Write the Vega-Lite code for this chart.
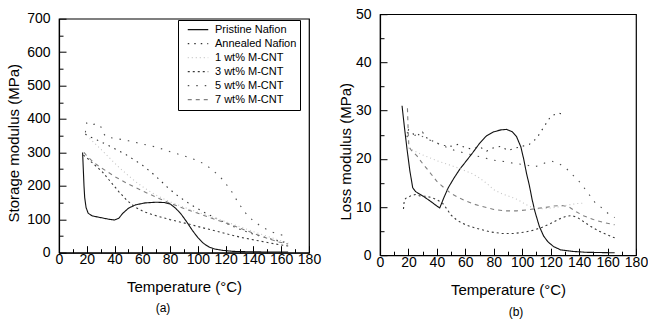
{
 "$schema": "https://vega.github.io/schema/vega-lite/v6.json",
 "padding": {"left": 6, "top": 6, "right": 0, "bottom": 0},
 "background": "white",
 "spacing": 15,
 "center": true,
 "config": {
  "font": "Liberation Sans",
  "view": {"stroke": "black", "strokeWidth": 1.2},
  "axis": {"labelFont": "Liberation Sans", "titleFont": "Liberation Sans", "labelFontSize": 14, "titleFontSize": 15, "titleFontWeight": "normal", "labelColor": "black", "titleColor": "black", "domainColor": "black", "domainWidth": 1.2, "tickColor": "black", "tickWidth": 1, "grid": false, "labelOverlap": false, "labelFlush": false},
  "title": {"font": "Liberation Sans", "fontSize": 12, "fontWeight": "normal", "color": "black"}
 },
 "datasets": {
  "a": [
   {"s":"Pristine Nafion","T":17,"v":300},{"s":"Pristine Nafion","T":17.5,"v":250},{"s":"Pristine Nafion","T":18,"v":200},{"s":"Pristine Nafion","T":18.5,"v":165},{"s":"Pristine Nafion","T":19.5,"v":135},{"s":"Pristine Nafion","T":21,"v":118},{"s":"Pristine Nafion","T":24,"v":110},{"s":"Pristine Nafion","T":30,"v":105},{"s":"Pristine Nafion","T":36,"v":100},{"s":"Pristine Nafion","T":40,"v":98},{"s":"Pristine Nafion","T":43,"v":103},{"s":"Pristine Nafion","T":46,"v":118},{"s":"Pristine Nafion","T":50,"v":133},{"s":"Pristine Nafion","T":55,"v":143},{"s":"Pristine Nafion","T":62,"v":149},{"s":"Pristine Nafion","T":70,"v":151},{"s":"Pristine Nafion","T":76,"v":150},{"s":"Pristine Nafion","T":80,"v":146},{"s":"Pristine Nafion","T":84,"v":133},{"s":"Pristine Nafion","T":88,"v":115},{"s":"Pristine Nafion","T":92,"v":92},{"s":"Pristine Nafion","T":96,"v":67},{"s":"Pristine Nafion","T":100,"v":45},{"s":"Pristine Nafion","T":104,"v":28},{"s":"Pristine Nafion","T":108,"v":17},{"s":"Pristine Nafion","T":112,"v":11},{"s":"Pristine Nafion","T":118,"v":7},{"s":"Pristine Nafion","T":125,"v":4},{"s":"Pristine Nafion","T":135,"v":3},{"s":"Pristine Nafion","T":150,"v":2},{"s":"Pristine Nafion","T":165,"v":2},
   {"s":"Annealed Nafion","T":19,"v":355},{"s":"Annealed Nafion","T":21,"v":348},{"s":"Annealed Nafion","T":25,"v":342},{"s":"Annealed Nafion","T":30,"v":332},{"s":"Annealed Nafion","T":36,"v":320},{"s":"Annealed Nafion","T":42,"v":307},{"s":"Annealed Nafion","T":48,"v":294},{"s":"Annealed Nafion","T":54,"v":278},{"s":"Annealed Nafion","T":60,"v":262},{"s":"Annealed Nafion","T":66,"v":242},{"s":"Annealed Nafion","T":72,"v":220},{"s":"Annealed Nafion","T":78,"v":196},{"s":"Annealed Nafion","T":84,"v":175},{"s":"Annealed Nafion","T":90,"v":157},{"s":"Annealed Nafion","T":96,"v":141},{"s":"Annealed Nafion","T":104,"v":122},{"s":"Annealed Nafion","T":113,"v":103},{"s":"Annealed Nafion","T":122,"v":85},{"s":"Annealed Nafion","T":132,"v":67},{"s":"Annealed Nafion","T":141,"v":54},{"s":"Annealed Nafion","T":150,"v":44},{"s":"Annealed Nafion","T":158,"v":35},{"s":"Annealed Nafion","T":165,"v":29},
   {"s":"1 wt% M-CNT","T":22,"v":342},{"s":"1 wt% M-CNT","T":26,"v":326},{"s":"1 wt% M-CNT","T":31,"v":306},{"s":"1 wt% M-CNT","T":37,"v":281},{"s":"1 wt% M-CNT","T":43,"v":256},{"s":"1 wt% M-CNT","T":49,"v":234},{"s":"1 wt% M-CNT","T":55,"v":213},{"s":"1 wt% M-CNT","T":62,"v":192},{"s":"1 wt% M-CNT","T":70,"v":172},{"s":"1 wt% M-CNT","T":80,"v":152},{"s":"1 wt% M-CNT","T":90,"v":136},{"s":"1 wt% M-CNT","T":100,"v":121},{"s":"1 wt% M-CNT","T":110,"v":107},{"s":"1 wt% M-CNT","T":120,"v":93},{"s":"1 wt% M-CNT","T":130,"v":78},{"s":"1 wt% M-CNT","T":140,"v":63},{"s":"1 wt% M-CNT","T":150,"v":49},{"s":"1 wt% M-CNT","T":158,"v":38},{"s":"1 wt% M-CNT","T":165,"v":30},
   {"s":"3 wt% M-CNT","T":17.5,"v":292},{"s":"3 wt% M-CNT","T":20,"v":284},{"s":"3 wt% M-CNT","T":25,"v":265},{"s":"3 wt% M-CNT","T":31,"v":243},{"s":"3 wt% M-CNT","T":37,"v":213},{"s":"3 wt% M-CNT","T":43,"v":183},{"s":"3 wt% M-CNT","T":49,"v":156},{"s":"3 wt% M-CNT","T":55,"v":136},{"s":"3 wt% M-CNT","T":61,"v":123},{"s":"3 wt% M-CNT","T":67,"v":114},{"s":"3 wt% M-CNT","T":74,"v":106},{"s":"3 wt% M-CNT","T":80,"v":99},{"s":"3 wt% M-CNT","T":87,"v":92},{"s":"3 wt% M-CNT","T":94,"v":85},{"s":"3 wt% M-CNT","T":103,"v":75},{"s":"3 wt% M-CNT","T":113,"v":65},{"s":"3 wt% M-CNT","T":122,"v":55},{"s":"3 wt% M-CNT","T":132,"v":45},{"s":"3 wt% M-CNT","T":142,"v":37},{"s":"3 wt% M-CNT","T":152,"v":29},{"s":"3 wt% M-CNT","T":160,"v":23},{"s":"3 wt% M-CNT","T":165,"v":20},
   {"s":"5 wt% M-CNT","T":19,"v":360},{"s":"5 wt% M-CNT","T":20,"v":388},{"s":"5 wt% M-CNT","T":22,"v":381},{"s":"5 wt% M-CNT","T":25,"v":384},{"s":"5 wt% M-CNT","T":28,"v":386},{"s":"5 wt% M-CNT","T":30,"v":378},{"s":"5 wt% M-CNT","T":32,"v":357},{"s":"5 wt% M-CNT","T":34,"v":346},{"s":"5 wt% M-CNT","T":42,"v":341},{"s":"5 wt% M-CNT","T":50,"v":335},{"s":"5 wt% M-CNT","T":60,"v":325},{"s":"5 wt% M-CNT","T":70,"v":316},{"s":"5 wt% M-CNT","T":80,"v":302},{"s":"5 wt% M-CNT","T":90,"v":290},{"s":"5 wt% M-CNT","T":100,"v":275},{"s":"5 wt% M-CNT","T":106,"v":262},{"s":"5 wt% M-CNT","T":112,"v":242},{"s":"5 wt% M-CNT","T":118,"v":218},{"s":"5 wt% M-CNT","T":124,"v":185},{"s":"5 wt% M-CNT","T":129,"v":150},{"s":"5 wt% M-CNT","T":134,"v":120},{"s":"5 wt% M-CNT","T":139,"v":99},{"s":"5 wt% M-CNT","T":145,"v":80},{"s":"5 wt% M-CNT","T":152,"v":64},{"s":"5 wt% M-CNT","T":158,"v":55},{"s":"5 wt% M-CNT","T":165,"v":49},
   {"s":"7 wt% M-CNT","T":18,"v":300},{"s":"7 wt% M-CNT","T":20,"v":290},{"s":"7 wt% M-CNT","T":25,"v":270},{"s":"7 wt% M-CNT","T":30,"v":255},{"s":"7 wt% M-CNT","T":35,"v":242},{"s":"7 wt% M-CNT","T":40,"v":228},{"s":"7 wt% M-CNT","T":50,"v":205},{"s":"7 wt% M-CNT","T":60,"v":185},{"s":"7 wt% M-CNT","T":70,"v":166},{"s":"7 wt% M-CNT","T":80,"v":148},{"s":"7 wt% M-CNT","T":90,"v":132},{"s":"7 wt% M-CNT","T":100,"v":118},{"s":"7 wt% M-CNT","T":110,"v":103},{"s":"7 wt% M-CNT","T":120,"v":89},{"s":"7 wt% M-CNT","T":130,"v":74},{"s":"7 wt% M-CNT","T":140,"v":58},{"s":"7 wt% M-CNT","T":150,"v":43},{"s":"7 wt% M-CNT","T":158,"v":32},{"s":"7 wt% M-CNT","T":165,"v":26}
  ],
  "b": [
   {"s":"Pristine Nafion","T":15.5,"v":31},{"s":"Pristine Nafion","T":17,"v":27},{"s":"Pristine Nafion","T":19,"v":22},{"s":"Pristine Nafion","T":21,"v":17.5},{"s":"Pristine Nafion","T":23,"v":14},{"s":"Pristine Nafion","T":25,"v":13.2},{"s":"Pristine Nafion","T":30,"v":12.3},{"s":"Pristine Nafion","T":35,"v":11.3},{"s":"Pristine Nafion","T":40,"v":10.2},{"s":"Pristine Nafion","T":42,"v":9.8},{"s":"Pristine Nafion","T":45,"v":12},{"s":"Pristine Nafion","T":48,"v":14},{"s":"Pristine Nafion","T":52,"v":16},{"s":"Pristine Nafion","T":56,"v":17.8},{"s":"Pristine Nafion","T":60,"v":19.3},{"s":"Pristine Nafion","T":65,"v":21.2},{"s":"Pristine Nafion","T":70,"v":23.2},{"s":"Pristine Nafion","T":75,"v":24.8},{"s":"Pristine Nafion","T":80,"v":25.6},{"s":"Pristine Nafion","T":85,"v":26},{"s":"Pristine Nafion","T":89,"v":26.1},{"s":"Pristine Nafion","T":93,"v":25.6},{"s":"Pristine Nafion","T":96,"v":24.6},{"s":"Pristine Nafion","T":99,"v":22.5},{"s":"Pristine Nafion","T":101,"v":20},{"s":"Pristine Nafion","T":103,"v":17},{"s":"Pristine Nafion","T":105,"v":14.5},{"s":"Pristine Nafion","T":107,"v":11.5},{"s":"Pristine Nafion","T":109,"v":9},{"s":"Pristine Nafion","T":112,"v":6},{"s":"Pristine Nafion","T":115,"v":4},{"s":"Pristine Nafion","T":118,"v":2.8},{"s":"Pristine Nafion","T":122,"v":1.8},{"s":"Pristine Nafion","T":127,"v":1.1},{"s":"Pristine Nafion","T":135,"v":0.8},{"s":"Pristine Nafion","T":145,"v":0.6},{"s":"Pristine Nafion","T":165,"v":0.5},
   {"s":"Annealed Nafion","T":19,"v":24.5},{"s":"Annealed Nafion","T":20,"v":26},{"s":"Annealed Nafion","T":22,"v":25.5},{"s":"Annealed Nafion","T":24,"v":25},{"s":"Annealed Nafion","T":26,"v":25.3},{"s":"Annealed Nafion","T":28,"v":24.8},{"s":"Annealed Nafion","T":30,"v":25.5},{"s":"Annealed Nafion","T":32,"v":24.5},{"s":"Annealed Nafion","T":35,"v":24},{"s":"Annealed Nafion","T":40,"v":23.2},{"s":"Annealed Nafion","T":45,"v":22.8},{"s":"Annealed Nafion","T":50,"v":22.6},{"s":"Annealed Nafion","T":55,"v":23},{"s":"Annealed Nafion","T":60,"v":22.3},{"s":"Annealed Nafion","T":65,"v":22},{"s":"Annealed Nafion","T":70,"v":22.5},{"s":"Annealed Nafion","T":75,"v":21.6},{"s":"Annealed Nafion","T":80,"v":22.3},{"s":"Annealed Nafion","T":85,"v":22.6},{"s":"Annealed Nafion","T":90,"v":21.7},{"s":"Annealed Nafion","T":95,"v":22.2},{"s":"Annealed Nafion","T":100,"v":22.6},{"s":"Annealed Nafion","T":105,"v":23},{"s":"Annealed Nafion","T":110,"v":24.2},{"s":"Annealed Nafion","T":115,"v":26.5},{"s":"Annealed Nafion","T":120,"v":28.8},{"s":"Annealed Nafion","T":125,"v":29.5},{"s":"Annealed Nafion","T":130,"v":29.2},
   {"s":"1 wt% M-CNT","T":20,"v":22.3},{"s":"1 wt% M-CNT","T":25,"v":21.5},{"s":"1 wt% M-CNT","T":30,"v":20.8},{"s":"1 wt% M-CNT","T":35,"v":20.2},{"s":"1 wt% M-CNT","T":40,"v":19.6},{"s":"1 wt% M-CNT","T":45,"v":19.1},{"s":"1 wt% M-CNT","T":50,"v":18.6},{"s":"1 wt% M-CNT","T":55,"v":18.1},{"s":"1 wt% M-CNT","T":60,"v":17.5},{"s":"1 wt% M-CNT","T":65,"v":16.9},{"s":"1 wt% M-CNT","T":70,"v":16},{"s":"1 wt% M-CNT","T":75,"v":14.9},{"s":"1 wt% M-CNT","T":80,"v":13.6},{"s":"1 wt% M-CNT","T":86,"v":12.7},{"s":"1 wt% M-CNT","T":92,"v":12.1},{"s":"1 wt% M-CNT","T":97,"v":11.5},{"s":"1 wt% M-CNT","T":102,"v":10.6},{"s":"1 wt% M-CNT","T":107,"v":9.9},{"s":"1 wt% M-CNT","T":112,"v":9.6},{"s":"1 wt% M-CNT","T":118,"v":9.7},{"s":"1 wt% M-CNT","T":125,"v":10},{"s":"1 wt% M-CNT","T":132,"v":10.4},{"s":"1 wt% M-CNT","T":138,"v":10.7},{"s":"1 wt% M-CNT","T":143,"v":10.8},
   {"s":"3 wt% M-CNT","T":16.5,"v":9.6},{"s":"3 wt% M-CNT","T":17,"v":11.2},{"s":"3 wt% M-CNT","T":18,"v":11.8},{"s":"3 wt% M-CNT","T":20,"v":12},{"s":"3 wt% M-CNT","T":22,"v":12.4},{"s":"3 wt% M-CNT","T":25,"v":12.6},{"s":"3 wt% M-CNT","T":28,"v":12.3},{"s":"3 wt% M-CNT","T":32,"v":12.2},{"s":"3 wt% M-CNT","T":36,"v":12},{"s":"3 wt% M-CNT","T":40,"v":11.5},{"s":"3 wt% M-CNT","T":44,"v":10.8},{"s":"3 wt% M-CNT","T":47,"v":9.6},{"s":"3 wt% M-CNT","T":50,"v":8.3},{"s":"3 wt% M-CNT","T":54,"v":7.3},{"s":"3 wt% M-CNT","T":58,"v":6.6},{"s":"3 wt% M-CNT","T":63,"v":6},{"s":"3 wt% M-CNT","T":70,"v":5.4},{"s":"3 wt% M-CNT","T":78,"v":4.8},{"s":"3 wt% M-CNT","T":86,"v":4.5},{"s":"3 wt% M-CNT","T":94,"v":4.5},{"s":"3 wt% M-CNT","T":102,"v":4.8},{"s":"3 wt% M-CNT","T":108,"v":5.2},{"s":"3 wt% M-CNT","T":114,"v":5.8},{"s":"3 wt% M-CNT","T":120,"v":6.6},{"s":"3 wt% M-CNT","T":126,"v":7.5},{"s":"3 wt% M-CNT","T":131,"v":8.1},{"s":"3 wt% M-CNT","T":135,"v":8.2},{"s":"3 wt% M-CNT","T":139,"v":7.8},{"s":"3 wt% M-CNT","T":143,"v":7},{"s":"3 wt% M-CNT","T":148,"v":6},{"s":"3 wt% M-CNT","T":154,"v":5},{"s":"3 wt% M-CNT","T":160,"v":4.2},{"s":"3 wt% M-CNT","T":165,"v":3.6},
   {"s":"5 wt% M-CNT","T":19,"v":25.5},{"s":"5 wt% M-CNT","T":21,"v":25},{"s":"5 wt% M-CNT","T":24,"v":24.8},{"s":"5 wt% M-CNT","T":27,"v":25.2},{"s":"5 wt% M-CNT","T":30,"v":24.6},{"s":"5 wt% M-CNT","T":34,"v":24},{"s":"5 wt% M-CNT","T":40,"v":23.3},{"s":"5 wt% M-CNT","T":46,"v":22.5},{"s":"5 wt% M-CNT","T":52,"v":21.8},{"s":"5 wt% M-CNT","T":58,"v":21.3},{"s":"5 wt% M-CNT","T":65,"v":20.8},{"s":"5 wt% M-CNT","T":72,"v":20.3},{"s":"5 wt% M-CNT","T":80,"v":19.7},{"s":"5 wt% M-CNT","T":88,"v":19.4},{"s":"5 wt% M-CNT","T":95,"v":19},{"s":"5 wt% M-CNT","T":102,"v":18.8},{"s":"5 wt% M-CNT","T":108,"v":18.3},{"s":"5 wt% M-CNT","T":112,"v":18.6},{"s":"5 wt% M-CNT","T":117,"v":19.3},{"s":"5 wt% M-CNT","T":121,"v":19.5},{"s":"5 wt% M-CNT","T":126,"v":19},{"s":"5 wt% M-CNT","T":131,"v":18},{"s":"5 wt% M-CNT","T":136,"v":16.5},{"s":"5 wt% M-CNT","T":141,"v":15},{"s":"5 wt% M-CNT","T":146,"v":13},{"s":"5 wt% M-CNT","T":151,"v":11},{"s":"5 wt% M-CNT","T":156,"v":9.8},{"s":"5 wt% M-CNT","T":161,"v":8.5},{"s":"5 wt% M-CNT","T":165,"v":7.8},
   {"s":"7 wt% M-CNT","T":19.3,"v":30.5},{"s":"7 wt% M-CNT","T":19.8,"v":26},{"s":"7 wt% M-CNT","T":20.3,"v":22.5},{"s":"7 wt% M-CNT","T":22,"v":21.8},{"s":"7 wt% M-CNT","T":26,"v":20.6},{"s":"7 wt% M-CNT","T":30,"v":19},{"s":"7 wt% M-CNT","T":35,"v":17.2},{"s":"7 wt% M-CNT","T":40,"v":15.3},{"s":"7 wt% M-CNT","T":45,"v":14},{"s":"7 wt% M-CNT","T":50,"v":12.8},{"s":"7 wt% M-CNT","T":55,"v":12},{"s":"7 wt% M-CNT","T":60,"v":11.3},{"s":"7 wt% M-CNT","T":66,"v":10.6},{"s":"7 wt% M-CNT","T":72,"v":10.1},{"s":"7 wt% M-CNT","T":80,"v":9.5},{"s":"7 wt% M-CNT","T":88,"v":9.2},{"s":"7 wt% M-CNT","T":96,"v":9.2},{"s":"7 wt% M-CNT","T":104,"v":9.4},{"s":"7 wt% M-CNT","T":110,"v":9.7},{"s":"7 wt% M-CNT","T":116,"v":9.9},{"s":"7 wt% M-CNT","T":122,"v":10.2},{"s":"7 wt% M-CNT","T":128,"v":10.3},{"s":"7 wt% M-CNT","T":133,"v":10},{"s":"7 wt% M-CNT","T":138,"v":9},{"s":"7 wt% M-CNT","T":143,"v":8.2},{"s":"7 wt% M-CNT","T":150,"v":7.4},{"s":"7 wt% M-CNT","T":157,"v":6.8},{"s":"7 wt% M-CNT","T":165,"v":6.3}
  ]
 },
 "hconcat": [
  {
   "width": 250, "height": 234,
   "data": {"name": "a"},
   "title": {"text": "(a)", "orient": "bottom", "frame": "group", "dx": -21, "offset": 8},
   "mark": {"type": "line", "strokeWidth": 1.1},
   "encoding": {
    "x": {"field": "T", "type": "quantitative", "scale": {"domain": [0, 180], "nice": false, "zero": false},
     "axis": {"title": "Temperature (°C)", "values": [0,10,20,30,40,50,60,70,80,90,100,110,120,130,140,150,160,170,180], "labelExpr": "datum.value % 20 === 0 ? datum.label : ''", "tickSize": {"condition": {"test": "datum.value % 20 === 0", "value": -7}, "value": -4}, "labelPadding": 7, "titlePadding": 10}},
    "y": {"field": "v", "type": "quantitative", "scale": {"domain": [0, 700], "nice": false},
     "axis": {"title": "Storage modulus (MPa)", "values": [0,50,100,150,200,250,300,350,400,450,500,550,600,650,700], "labelExpr": "datum.value % 100 === 0 ? datum.label : ''", "tickSize": {"condition": {"test": "datum.value % 100 === 0", "value": -7}, "value": -4}, "labelPadding": 16, "titlePadding": 5, "titleY": 124}},
    "color": {"field": "s", "type": "nominal",
     "scale": {"domain": ["Pristine Nafion","Annealed Nafion","1 wt% M-CNT","3 wt% M-CNT","5 wt% M-CNT","7 wt% M-CNT"], "range": ["#111111","#333333","#c4c4c4","#3a3a3a","#505050","#808080"]},
     "legend": {"title": null, "orient": "none", "legendX": 119, "legendY": 6, "strokeColor": "black", "fillColor": "white", "padding": 3, "symbolOffset": 6, "symbolType": "stroke", "symbolSize": 420, "symbolStrokeWidth": 1.2, "labelFontSize": 11, "labelFont": "Liberation Sans", "labelColor": "black", "labelOffset": 6, "clipHeight": 13.2, "rowPadding": 0}},
    "strokeDash": {"field": "s", "type": "nominal",
     "scale": {"domain": ["Pristine Nafion","Annealed Nafion","1 wt% M-CNT","3 wt% M-CNT","5 wt% M-CNT","7 wt% M-CNT"], "range": [[1,0],[1.5,5],[1,3],[2,3],[1.5,7],[4,4]]},
     "legend": {"title": null, "orient": "none", "legendX": 119, "legendY": 6, "strokeColor": "black", "fillColor": "white", "padding": 3, "symbolOffset": 6, "symbolType": "stroke", "symbolSize": 420, "symbolStrokeWidth": 1.2, "labelFontSize": 11, "labelFont": "Liberation Sans", "labelColor": "black", "labelOffset": 6, "clipHeight": 13.2, "rowPadding": 0}}
   }
  },
  {
   "width": 256, "height": 241,
   "data": {"name": "b"},
   "title": {"text": "(b)", "orient": "bottom", "frame": "group", "dx": 8, "offset": 10},
   "mark": {"type": "line", "strokeWidth": 1.1},
   "encoding": {
    "x": {"field": "T", "type": "quantitative", "scale": {"domain": [0, 180], "nice": false, "zero": false},
     "axis": {"title": "Temperature (°C)", "values": [0,10,20,30,40,50,60,70,80,90,100,110,120,130,140,150,160,170,180], "labelExpr": "datum.value % 20 === 0 ? datum.label : ''", "tickSize": {"condition": {"test": "datum.value % 20 === 0", "value": -7}, "value": -4}, "labelPadding": 7, "titlePadding": 10}},
    "y": {"field": "v", "type": "quantitative", "scale": {"domain": [0, 50], "nice": false},
     "axis": {"title": "Loss modulus (MPa)", "values": [0,5,10,15,20,25,30,35,40,45,50], "labelExpr": "datum.value % 10 === 0 ? datum.label : ''", "tickSize": {"condition": {"test": "datum.value % 10 === 0", "value": -7}, "value": -4}, "labelPadding": 16, "titlePadding": 2, "titleY": 137}},
    "color": {"field": "s", "type": "nominal",
     "scale": {"domain": ["Pristine Nafion","Annealed Nafion","1 wt% M-CNT","3 wt% M-CNT","5 wt% M-CNT","7 wt% M-CNT"], "range": ["#111111","#333333","#c4c4c4","#3a3a3a","#505050","#606060"]},
     "legend": {"title": null, "orient": "none", "legendX": 36, "legendY": 3, "strokeColor": "black", "fillColor": "white", "padding": 2, "symbolOffset": 5, "symbolType": "stroke", "symbolSize": 576, "symbolStrokeWidth": 1.2, "labelFontSize": 11, "labelFont": "Liberation Sans", "labelColor": "black", "labelOffset": 6, "clipHeight": 13.2, "rowPadding": 0}},
    "strokeDash": {"field": "s", "type": "nominal",
     "scale": {"domain": ["Pristine Nafion","Annealed Nafion","1 wt% M-CNT","3 wt% M-CNT","5 wt% M-CNT","7 wt% M-CNT"], "range": [[1,0],[1,2],[1,3],[2.5,2.5],[1.5,7],[7,3,1.5,3]]},
     "legend": {"title": null, "orient": "none", "legendX": 36, "legendY": 3, "strokeColor": "black", "fillColor": "white", "padding": 2, "symbolOffset": 5, "symbolType": "stroke", "symbolSize": 576, "symbolStrokeWidth": 1.2, "labelFontSize": 11, "labelFont": "Liberation Sans", "labelColor": "black", "labelOffset": 6, "clipHeight": 13.2, "rowPadding": 0}}
   }
  }
 ]
}
